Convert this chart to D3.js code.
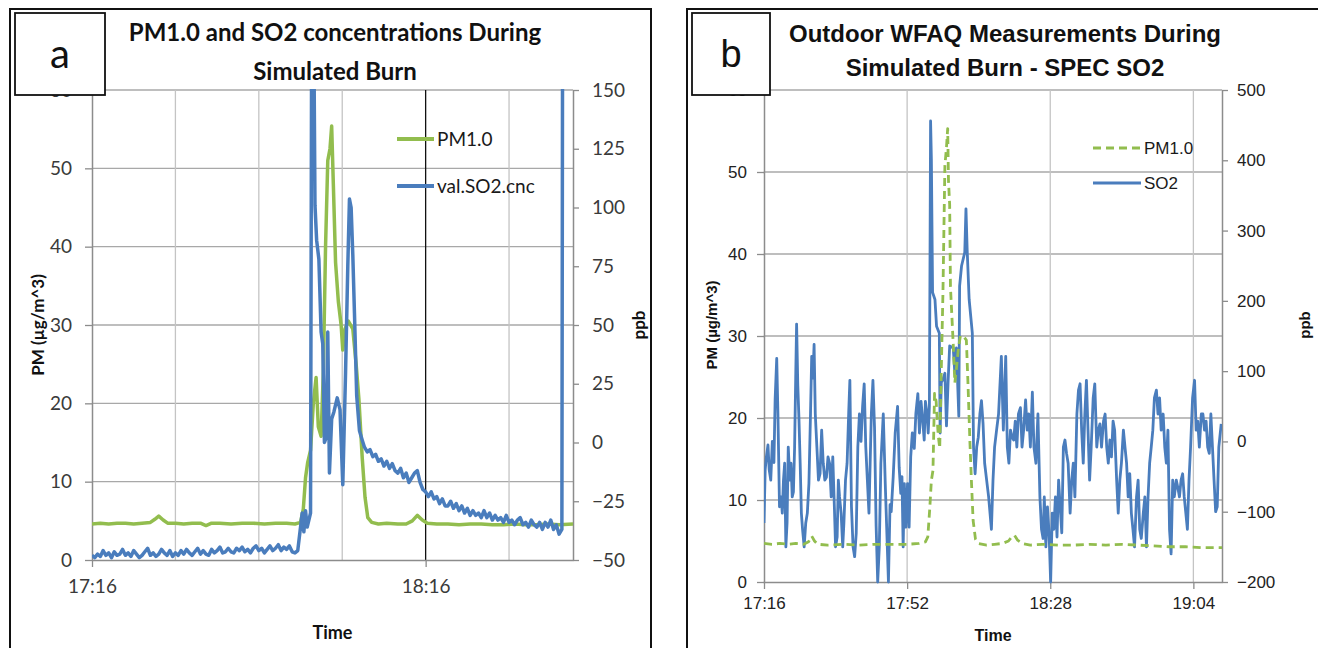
<!DOCTYPE html>
<meta charset="utf-8">
<style>
body { margin: 0; background: #fff; }
</style>
<body>
<svg id="chart" width="1318" height="648"></svg>
</body>
<script src="https://d3js.org/d3.v7.min.js"></script>
<script>
// time is minutes after 17:16, PM in ug/m^3, SO2 in ppb

// panel a : PM1.0 [minute, value]
var pmA = [
  [0,4.6],[1.5,4.7],[3,4.6],[4.5,4.7],[6,4.7],[7.5,4.6],[9,4.7],[10.5,4.8],[11.3,5.2],[12,5.6],
  [12.8,5.1],[13.6,4.7],[15,4.7],[16.5,4.6],[18,4.7],[19.5,4.7],[20.5,4.4],[21.5,4.7],[23,4.7],[25,4.6],
  [27,4.7],[29,4.7],[31,4.6],[33,4.7],[35,4.7],[36.5,4.6],[37.5,4.8],[38,6.5],[38.4,10.5],[38.8,12.5],
  [39.3,14],[39.8,20],[40.3,23.3],[40.7,17],[41.2,15.8],[41.6,24],[42,40],[42.4,51],[42.8,52.5],[43.1,55.4],
  [43.4,48],[43.8,38],[44.3,33],[44.8,30],[45.1,26.8],[45.5,29.5],[46.1,30.5],[46.9,29.5],[47.5,25],[48,20.5],
  [48.6,13],[49.1,8],[49.6,5.4],[50.3,4.8],[51.5,4.6],[53,4.7],[55,4.6],[56.5,4.6],[57.6,5.0],[58.5,5.7],
  [59.4,5.1],[60.3,4.7],[62,4.6],[64,4.6],[66,4.5],[68,4.6],[70,4.6],[72,4.5],[74,4.5],[76,4.6],
  [78,4.5],[80,4.5],[82,4.6],[84,4.5],[86.5,4.6]
];

// panel a : val.SO2.cnc [minute, ppb]
var so2A = [
  [0,-48],[0.5,-49],[1,-47.5],[1.5,-48.5],[2,-46],[2.5,-48],[3,-47],[3.5,-49],[4,-46.5],[4.5,-48],
  [5,-47.5],[5.5,-45.5],[6,-48],[6.5,-47],[7,-48.5],[7.5,-46],[8,-47.5],[8.5,-49],[9,-48],[9.5,-46.5],
  [10,-45],[10.5,-48],[11,-47],[11.5,-48.5],[12,-47.5],[12.5,-45.5],[13,-47],[13.5,-48],[14,-46],[14.5,-48.5],
  [15,-47],[15.5,-48],[16,-46],[16.5,-47.5],[17,-45.5],[17.5,-47],[18,-48],[18.5,-46.5],[19,-45],[19.5,-47.5],
  [20,-46],[20.5,-47.5],[21,-48],[21.5,-45.5],[22,-47],[22.5,-46],[23,-44.5],[23.5,-47],[24,-46.5],[24.5,-45],
  [25,-46.5],[25.5,-47],[26,-45],[26.5,-46],[27,-44.5],[27.5,-46.5],[28,-45.5],[28.5,-47],[29,-45],[29.5,-44],
  [30,-46],[30.5,-45],[31,-47],[31.5,-45.5],[32,-44],[32.5,-46],[33,-45],[33.5,-43.5],[34,-46],[34.5,-44.5],
  [35,-45.5],[35.5,-44],[36,-46.5],[36.5,-47],
  [37,-46],[37.5,-36],[37.8,-30],[38.1,-38],[38.4,-29],[38.7,-36],[39,-33],[39.3,-30],[39.5,175],[39.9,170],
  [40.1,101],[40.4,86],[40.8,78],[41.2,47],[41.5,42],[41.8,0],[42.1,2],[42.4,47],[42.7,-13],[43.1,10],
  [43.5,13],[44.1,19],[44.6,14],[45.1,-18],[45.6,30],[46,75],[46.3,103.6],[46.6,100],[46.9,80],[47.2,55],
  [47.6,20],[48.1,5],[48.6,1],
  [49,-2],[49.5,-4],[50,-3],[50.5,-6],[51,-5],[51.5,-8],[52,-7],[52.5,-10],[53,-8],[53.5,-11],
  [54,-9],[54.5,-12],[55,-13],[55.5,-11],[56,-15],[56.5,-13],[57,-17],[57.5,-15],[58,-13],[58.5,-12],
  [59,-17],[59.5,-20],[60,-21],[60.5,-23],[61,-21],[61.5,-24],[62,-23],[62.5,-26],[63,-24],[63.5,-27],
  [64,-27],[64.5,-25],[65,-28],[65.5,-26],[66,-29],[66.5,-27],[67,-30],[67.5,-28],[68,-31],[68.5,-29],
  [69,-31],[69.5,-30],[70,-32],[70.5,-29],[71,-32],[71.5,-30],[72,-33],[72.5,-31],[73,-33],[73.5,-32],
  [74,-34],[74.5,-31],[75,-34],[75.5,-33],[76,-35],[76.5,-33],[77,-32],[77.5,-35],[78,-34],[78.5,-36],
  [79,-33],[79.5,-35],[80,-36],[80.5,-34],[81,-37],[81.5,-34],[82,-36],[82.5,-33],[83,-37],[83.5,-35],
  [84,-39],[84.5,-37],[84.7,300],[86.5,300]
];

// panel b : PM1.0 [minute, value]
var pmB = [
  [0,4.7],[2,4.6],[4,4.7],[6,4.6],[8,4.7],[10,4.6],[11.2,4.9],[12,5.6],[12.7,5.0],[13.5,4.6],
  [16,4.5],[20,4.6],[24,4.5],[28,4.6],[32,4.6],[36,4.6],[39,4.7],[40.6,4.9],[41.2,5.5],[41.7,9],
  [42.1,12.4],[42.5,13.6],[42.9,23],[43.3,22],[43.8,18],[44.2,16.3],[44.6,26],[45,35],[45.5,50.8],[45.9,53],
  [46.2,55.3],[46.4,49],[46.7,46],[46.9,36],[47.2,33],[47.6,29],[48,24.3],[48.4,26],[48.9,28.5],[49.4,30],
  [50.1,30],[50.9,29.5],[51.3,24.3],[51.8,17],[52.2,12],[52.6,7.5],[53.2,5.2],[54,4.7],[56,4.5],[58,4.6],
  [60,4.7],[61.5,5.0],[62.3,5.5],[63,5.7],[63.8,5.1],[65,4.7],[67,4.5],[70,4.6],[74,4.5],[78,4.5],
  [82,4.6],[86,4.5],[90,4.6],[94,4.5],[98,4.4],[102,4.3],[106,4.3],[110,4.2],[115.2,4.2]
];

// panel b : SPEC SO2 [minute, ppb]
var so2B = [
  [0,-116],[0.3,-40],[0.6,-22],[1.0,-5],[1.3,-40],[1.7,-55],[2.1,0],[2.5,-30],[2.8,60],[3.2,118],
  [3.5,40],[3.9,-93],[4.3,-79],[4.6,-102],[4.9,-55],[5.2,-31],[5.5,-150],[5.8,-116],[6.1,-8],[6.5,-55],
  [6.8,-31],[7.1,-79],[7.4,-72],[7.7,-8],[8.0,100],[8.2,167],[8.5,80],[8.8,31],[9.1,-31],[9.4,-102],
  [9.7,-125],[10.1,-150],[10.5,-116],[10.9,-102],[11.3,-60],[11.7,40],[12.0,121],[12.3,90],[12.6,138],[12.9,39],
  [13.3,-8],[13.7,-55],[14.1,-46],[14.5,16],[14.9,-31],[15.3,-55],[15.7,-51],[16.1,-22],[16.5,-31],[16.9,-79],
  [17.3,-22],[17.7,-93],[18.0,-150],[18.4,-136],[18.7,-55],[19.0,-79],[19.4,-102],[19.8,-150],[20.1,-116],[20.5,-55],
  [20.9,-31],[21.3,40],[21.6,87],[22.0,-93],[22.4,-150],[22.8,-164],[23.2,-130],[23.6,-8],[24.0,39],[24.4,0],
  [24.8,50],[25.2,82],[25.6,-8],[26.0,-55],[26.4,-102],[26.7,-31],[27.0,39],[27.4,87],[27.8,20],[28.2,-120],
  [28.6,-200],[29.0,-150],[29.4,-31],[30.0,39],[30.5,-60],[31.3,-200],[31.7,-90],[32.0,-100],[32.5,-50],[33.0,12],
  [33.6,50],[34.0,-37],[34.4,-74],[34.7,-50],[35.0,-150],[35.3,-60],[35.7,-122],[36.1,-60],[36.5,-122],[36.9,-22],
  [37.3,12],[37.8,-10],[38.2,40],[38.7,68],[39.1,12],[39.5,57],[39.9,31],[40.3,2],[40.6,57],[41.0,40],
  [41.3,12],[41.6,50],[41.9,456],[42.1,402],[42.4,212],[43.0,202],[43.4,164],[44.1,154],[44.3,12],[44.6,84],
  [45.0,88],[45.5,97],[45.9,22],[46.3,84],[46.7,136],[47.6,133],[48.0,97],[48.4,133],[49.0,36],[49.2,221],
  [49.7,250],[50.5,269],[50.8,331],[51.1,273],[51.6,202],[52.4,154],[52.7,-8],[53.1,-46],[53.5,-8],[53.9,6],
  [54.3,39],[54.7,58],[55.1,25],[55.5,-31],[56.0,-55],[56.5,-79],[57.2,-125],[57.6,-55],[58.0,-8],[58.5,16],
  [59.0,39],[59.7,121],[60.2,16],[60.8,121],[61.2,-8],[61.6,-31],[62.0,16],[62.4,6],[62.8,2],[63.2,29],
  [63.6,-8],[64.0,39],[64.5,48],[64.9,-8],[65.3,16],[65.8,59],[66.2,16],[66.6,39],[67.0,-8],[67.5,70],
  [67.9,-8],[68.4,-31],[68.9,39],[69.4,-79],[69.8,-125],[70.2,-138],[70.5,-79],[70.9,-150],[71.3,-93],[71.7,-130],
  [72.1,-200],[72.5,-102],[72.9,-125],[73.3,-79],[73.7,-136],[74.1,-55],[74.5,-93],[74.9,-130],[75.3,-8],[75.7,2],
  [76.1,-17],[76.5,-31],[77.0,-102],[77.4,-55],[77.8,-31],[78.2,-79],[78.7,39],[79.1,73],[79.5,82],[79.9,16],
  [80.3,-31],[80.7,39],[81.1,87],[81.5,16],[81.9,-55],[82.3,-8],[82.8,62],[83.2,82],[83.7,-8],[84.1,16],
  [84.5,25],[84.9,-8],[85.4,29],[85.8,39],[86.2,-8],[86.6,-31],[87.0,2],[87.4,-22],[87.8,29],[88.2,16],
  [88.7,-55],[89.1,-102],[89.5,-55],[89.9,-31],[90.4,16],[90.8,-8],[91.2,-31],[91.6,-79],[92.0,-46],[92.4,-102],
  [92.8,-125],[93.2,-150],[93.7,-79],[94.1,-55],[94.5,-125],[94.9,-138],[95.4,-102],[95.8,-79],[96.2,-150],[96.6,-79],
  [97.0,-31],[97.4,-8],[97.8,16],[98.2,62],[98.7,73],[99.1,39],[99.5,62],[99.9,16],[100.4,39],[100.8,-8],
  [101.2,-31],[101.6,16],[102.0,-125],[102.4,-160],[102.8,-55],[103.2,-79],[103.7,-55],[104.1,-66],[104.5,-79],[104.9,-55],
  [105.3,-46],[105.7,-79],[106.1,-102],[106.5,-125],[106.9,-55],[107.3,-8],[107.8,62],[108.3,87],[108.7,16],[109.1,29],
  [109.5,-8],[110.0,39],[110.4,39],[110.8,16],[111.2,29],[111.6,-8],[112.0,-17],[112.4,39],[112.8,-8],[113.2,-55],
  [113.6,-100],[114.0,-93],[114.4,-8],[115.0,25]
];

// axis ticks
var pmTicks = [0, 10, 20, 30, 40, 50, 60];
var ppbTicksA = [-50, -25, 0, 25, 50, 75, 100, 125, 150];
var ppbTicksB = [-200, -100, 0, 100, 200, 300, 400, 500];
var timeTicksA = [0, 60];             // 17:16, 18:16
var timeGridA = [15, 30, 45, 60, 75];
var timeTicksB = [0, 36, 72, 108];    // 17:16 ... 19:04

var green = "#92bd4e", blue = "#4a7dbd";

var svg = d3.select("#chart");

function clock(m) {
  var t = 17 * 60 + 16 + Math.round(m);
  return Math.floor(t / 60) + ":" + ("0" + (t % 60)).slice(-2);
}

// outer frames
svg.append("rect").attr("x", 10).attr("y", 9).attr("width", 641).attr("height", 660)
  .attr("fill", "none").attr("stroke", "#111").attr("stroke-width", 2);
svg.append("rect").attr("x", 687).attr("y", 9).attr("width", 660).attr("height", 660)
  .attr("fill", "none").attr("stroke", "#111").attr("stroke-width", 2);

function drawPanel(c) {
  var g = svg.append("g");
  var x = d3.scaleLinear().domain([0, c.tMax]).range([c.left, c.right]);
  var yL = d3.scaleLinear().domain([0, 60]).range([c.bottom, c.top]);
  var yR = d3.scaleLinear().domain(c.ppbDomain).range([c.bottom, c.top]);

  // gridlines
  g.selectAll(".hg").data(pmTicks.slice(1)).enter().append("line")
    .attr("x1", c.left).attr("x2", c.right)
    .attr("y1", d => yL(d)).attr("y2", d => yL(d))
    .attr("stroke", "#a8a8a8").attr("stroke-width", 1.3);
  g.selectAll(".vg").data(c.timeGrid).enter().append("line")
    .attr("y1", c.top).attr("y2", c.bottom)
    .attr("x1", d => x(d)).attr("x2", d => x(d))
    .attr("stroke", d => (c.darkGrid === d ? "#111" : "#c4c4c4")).attr("stroke-width", 1.3);

  // axes
  var ax = g.append("g").attr("transform", "translate(" + c.left + ",0)")
    .call(d3.axisLeft(yL).tickValues(pmTicks).tickSize(7).tickSizeOuter(0).tickPadding(c.padL));
  var axR = g.append("g").attr("transform", "translate(" + c.right + ",0)")
    .call(d3.axisRight(yR).tickValues(c.ppbTicks).tickSize(6).tickSizeOuter(0).tickPadding(c.padR));
  var axB = g.append("g").attr("transform", "translate(0," + c.bottom + ")")
    .call(d3.axisBottom(x).tickValues(c.timeTicks).tickFormat(clock).tickSize(7).tickSizeOuter(0).tickPadding(c.padB));
  [ax, axR, axB].forEach(function (a) {
    a.select(".domain").attr("stroke", "#8c8c8c").attr("stroke-width", 1.5);
    a.selectAll(".tick line").attr("stroke", "#8c8c8c").attr("stroke-width", 1.3);
    a.selectAll("text").attr("font-family", c.font).attr("font-size", c.tickSize).attr("fill", c.tickColor);
  });

  // lines
  g.append("clipPath").attr("id", c.id + "clip").append("rect")
    .attr("x", c.left).attr("y", c.top - 1).attr("width", c.right - c.left).attr("height", c.bottom - c.top + 6);
  var lineL = d3.line().x(d => x(d[0])).y(d => yL(d[1]));
  var lineR = d3.line().x(d => x(d[0])).y(d => yR(d[1]));
  var series = [
    { d: c.pm, f: lineL, color: green, w: c.pmWidth, dash: c.pmDash },
    { d: c.so2, f: lineR, color: blue, w: c.so2Width, dash: null }
  ];
  if (c.pmOnTop) series.reverse();
  series.forEach(function (s) {
    g.append("path").datum(s.d).attr("clip-path", "url(#" + c.id + "clip)")
      .attr("d", s.f).attr("fill", "none").attr("stroke", s.color)
      .attr("stroke-width", s.w).attr("stroke-dasharray", s.dash)
      .attr("stroke-linejoin", "round");
  });

  // legend
  var lg = g.append("g");
  c.legend.forEach(function (l) {
    lg.append("line").attr("x1", c.legX).attr("x2", c.legX + c.legLen).attr("y1", l.y).attr("y2", l.y)
      .attr("stroke", l.color).attr("stroke-width", l.w).attr("stroke-dasharray", l.dash);
    lg.append("text").attr("x", c.legX + c.legLen + 3).attr("y", l.y).attr("dy", "0.35em")
      .attr("font-family", c.font).attr("font-size", c.legSize).attr("fill", "#1a1a1a").text(l.text);
  });

  // titles
  c.title.forEach(function (t, i) {
    g.append("text").attr("x", c.titleX).attr("y", c.titleY[i]).attr("text-anchor", "middle")
      .attr("font-family", c.font).attr("font-weight", "bold").attr("font-size", c.titleSize)
      .attr("fill", "#111").text(t);
  });
  g.append("text").attr("transform", "translate(" + c.pmLabelX + "," + c.axisLabelY + ") rotate(-90)")
    .attr("text-anchor", "middle").attr("dy", "0.35em").attr("font-family", c.font)
    .attr("font-weight", "bold").attr("font-size", c.axisSize).attr("fill", "#111").text("PM (\u00b5g/m^3)");
  g.append("text").attr("transform", "translate(" + c.ppbLabelX + "," + c.axisLabelY + ") rotate(-90)")
    .attr("text-anchor", "middle").attr("dy", "0.35em").attr("font-family", c.font)
    .attr("font-weight", "bold").attr("font-size", c.axisSize).attr("fill", "#111").text("ppb");
  g.append("text").attr("x", (c.left + c.right) / 2).attr("y", c.timeY).attr("text-anchor", "middle")
    .attr("dy", "0.35em").attr("font-family", c.font).attr("font-weight", "bold")
    .attr("font-size", c.timeSize).attr("fill", "#111").text("Time");

  // panel letter box
  g.append("rect").attr("x", c.box[0]).attr("y", c.box[1]).attr("width", c.box[2]).attr("height", c.box[3])
    .attr("fill", "#fff").attr("stroke", "#111").attr("stroke-width", 1.8);
  g.append("text").attr("x", c.box[0] + c.box[2] / 2).attr("y", c.box[1] + c.box[3] / 2)
    .attr("dy", "0.35em").attr("text-anchor", "middle").attr("font-family", c.font)
    .attr("font-size", c.letterSize).attr("fill", "#111").text(c.letter);
}

drawPanel({
  id: "a", left: 92, right: 573, top: 90, bottom: 560, tMax: 86.5,
  ppbDomain: [-50, 150], ppbTicks: ppbTicksA, timeTicks: timeTicksA, timeGrid: timeGridA, darkGrid: 60,
  pm: pmA, so2: so2A, pmWidth: 3.5, so2Width: 3.5, pmDash: null, pmOnTop: false,
  font: "Lato, 'Open Sans', sans-serif", tickSize: "19px", tickColor: "#3a3a3a",
  padL: 13, padR: 13, padB: 13,
  legX: 397, legLen: 37, legSize: "19px",
  legend: [{ text: "PM1.0", y: 139, color: green, w: 4, dash: null },
           { text: "val.SO2.cnc", y: 186, color: blue, w: 4, dash: null }],
  title: ["PM1.0 and SO2 concentrations During", "Simulated Burn"], titleX: 335, titleY: [41, 80], titleSize: "24px",
  pmLabelX: 38, ppbLabelX: 639, axisLabelY: 325, axisSize: "17px", timeY: 633, timeSize: "18px",
  box: [15, 13, 90, 82], letter: "a", letterSize: "40px"
});

drawPanel({
  id: "b", left: 764, right: 1222, top: 90, bottom: 582, tMax: 115.2,
  ppbDomain: [-200, 500], ppbTicks: ppbTicksB, timeTicks: timeTicksB, timeGrid: timeTicksB.slice(1), darkGrid: null,
  pm: pmB, so2: so2B, pmWidth: 2.8, so2Width: 2.8, pmDash: "8,5", pmOnTop: true,
  font: "'Liberation Sans', Arial, sans-serif", tickSize: "17px", tickColor: "#222",
  padL: 10, padR: 9, padB: 8,
  legX: 1093, legLen: 48, legSize: "17px",
  legend: [{ text: "PM1.0", y: 148, color: green, w: 3, dash: "8,5" },
           { text: "SO2", y: 183, color: blue, w: 3, dash: null }],
  title: ["Outdoor WFAQ Measurements During", "Simulated Burn - SPEC SO2"], titleX: 1005, titleY: [42, 76], titleSize: "24px",
  pmLabelX: 712, ppbLabelX: 1305, axisLabelY: 325, axisSize: "15px", timeY: 635, timeSize: "16px",
  box: [692, 13, 78, 82], letter: "b", letterSize: "38px"
});
</script>
